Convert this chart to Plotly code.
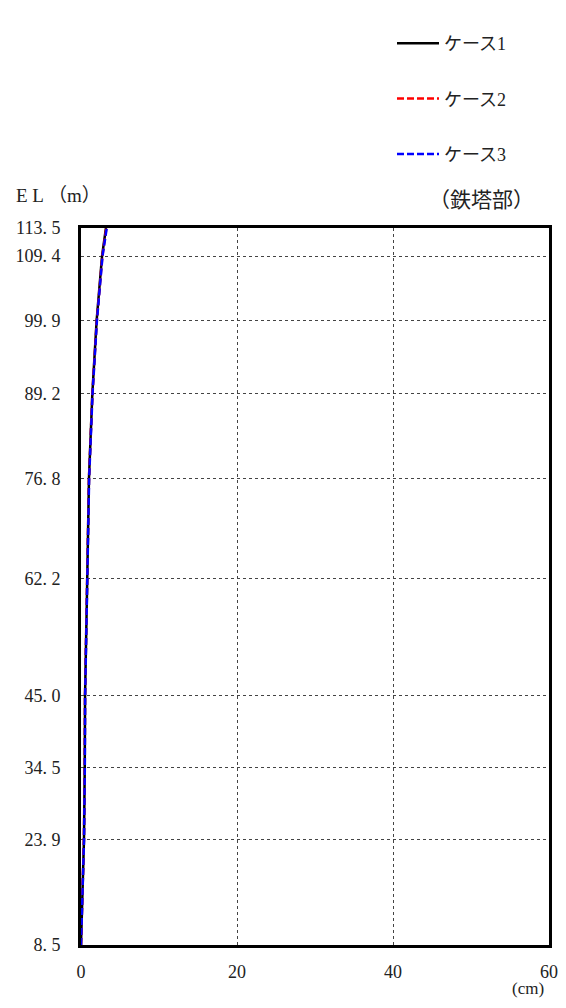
import plotly.graph_objects as go

elev = [8.5, 23.9, 34.5, 45.0, 62.2, 76.8, 89.2, 99.9, 109.4, 113.5]
case1 = [0.0, 0.38, 0.48, 0.52, 0.80, 1.02, 1.45, 2.00, 2.70, 3.20]
case2 = [0.0, 0.37, 0.47, 0.51, 0.79, 1.02, 1.46, 2.02, 2.74, 3.25]
case3 = [0.0, 0.39, 0.49, 0.53, 0.81, 1.04, 1.48, 2.04, 2.76, 3.30]
names = ["ケース1", "ケース2", "ケース3"]
ytick_vals = elev
ytick_text = ["8. 5", "23. 9", "34. 5", "45. 0", "62. 2", "76. 8", "89. 2", "99. 9", "109. 4", "113. 5"]
xtick_vals = [0, 20, 40, 60]

FONT = "Liberation Serif, Noto Sans CJK JP, serif"
W, H = 550, 992  # page has 8px body margin
L, R, T, B = 73, 9, 220, 55
PW, PH = W - L - R, H - T - B


def px(x):
    return (x - L) / PW


def py(y):
    return (H - B - y) / PH


fig = go.Figure()
styles = [("black", "solid", 2.5), ("red", "7px,3px", 2.5), ("blue", "7px,3px", 2.5)]
for nm, vals, (c, d, w) in zip(names, [case1, case2, case3], styles):
    fig.add_trace(go.Scatter(x=vals, y=elev, mode="lines", name=nm, legendgroup=nm,
                             line=dict(color=c, dash=d, width=w)))

axis_common = dict(showline=True, linecolor="black", linewidth=3, mirror=True,
                   showgrid=True, gridcolor="#444", griddash="dot", gridwidth=1,
                   zeroline=False, ticks="", tickfont=dict(family=FONT, size=18, color="#222"))
fig.update_xaxes(range=[0, 60], tickvals=xtick_vals, ticklabelstandoff=8, **axis_common)
fig.update_yaxes(range=[8.5, 113.5], tickvals=ytick_vals, ticktext=ytick_text, ticklabelstandoff=14,
                 **axis_common)

fig.update_layout(
    width=W, height=H,
    margin=dict(l=L, r=R, t=T, b=B, autoexpand=False),
    plot_bgcolor="white", paper_bgcolor="white",
    font=dict(family=FONT, size=18, color="#222"),
    showlegend=True,
    legend=dict(x=384 / W, y=1 - 17 / H, xanchor="left", yanchor="top", xref="container", yref="container",
                tracegroupgap=29, itemwidth=42,
                font=dict(family=FONT, size=18, color="#222"), bgcolor="rgba(0,0,0,0)"),
    annotations=[
        dict(text="E L （m）", x=px(6), y=py(187), xref="paper", yref="paper",
             xanchor="left", yanchor="middle", showarrow=False,
             font=dict(family=FONT, size=19, color="#222")),
        dict(text="（鉄塔部）", x=px(528), y=py(192), xref="paper", yref="paper",
             xanchor="right", yanchor="middle", showarrow=False,
             font=dict(family=FONT, size=21, color="#222")),
        dict(text="(cm)", x=px(538), y=py(980), xref="paper", yref="paper",
             xanchor="right", yanchor="middle", showarrow=False,
             font=dict(family=FONT, size=17, color="#222")),
    ],
)
fig.write_html("out.html")
